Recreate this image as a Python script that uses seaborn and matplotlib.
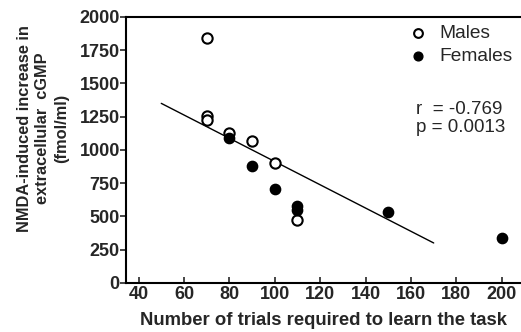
import numpy as np
import pandas as pd
import seaborn as sns
import matplotlib.pyplot as plt

sns.set_theme(style="white")
plt.rcParams['font.family'] = ['Liberation Sans', 'DejaVu Sans']

# Data
male_trials = [70, 70, 70, 80, 90, 100, 110]
male_cgmp = [1845, 1255, 1225, 1130, 1065, 900, 475]
female_trials = [80, 90, 100, 110, 110, 150, 200]
female_cgmp = [1090, 880, 705, 575, 545, 530, 335]
fit_x = [50, 170]
fit_y = [1350, 300]
x_ticks = [40, 60, 80, 100, 120, 140, 160, 180, 200]
y_ticks = [0, 250, 500, 750, 1000, 1250, 1500, 1750, 2000]

males = pd.DataFrame({"trials": male_trials, "cgmp": male_cgmp})
females = pd.DataFrame({"trials": female_trials, "cgmp": female_cgmp})

fig = plt.figure(figsize=(5.21, 3.32), dpi=100)
ax = fig.add_axes([0.242, 0.148, 0.756, 0.801])

sns.lineplot(x=fit_x, y=fit_y, ax=ax, color="black", linewidth=1.0)
sns.scatterplot(data=males, x="trials", y="cgmp", ax=ax, s=55,
                facecolor="white", edgecolor="black", linewidth=1.5,
                label="Males", zorder=3)
sns.scatterplot(data=females, x="trials", y="cgmp", ax=ax, s=55,
                color="black", edgecolor="black", linewidth=1.0,
                label="Females", zorder=3)

ax.set_xlim(34.5, 208)
ax.set_ylim(0, 2000)
ax.set_xticks(x_ticks)
ax.set_yticks(y_ticks)
for lab in ax.get_xticklabels() + ax.get_yticklabels():
    lab.set_fontweight("bold")
    lab.set_fontsize(13)
ax.tick_params(axis="x", direction="in", length=4, width=1.2, pad=2, bottom=True)
ax.tick_params(axis="y", direction="out", length=4, width=1.2, pad=0.5, left=True)

for side in ["left", "bottom", "top"]:
    ax.spines[side].set_linewidth(1.5)
    ax.spines[side].set_color("black")
ax.spines["right"].set_visible(False)

ax.set_xlabel("Number of trials required to learn the task", fontsize=13.3,
              fontweight="bold", labelpad=7)
ax.set_ylabel("NMDA-induced increase in\nextracellular  cGMP\n(fmol/ml)",
              fontsize=11.8, fontweight="bold", linespacing=1.3)
ax.yaxis.set_label_coords(-0.145, 0.58)

ax.legend(loc="upper right", frameon=False, fontsize=13.8, handletextpad=0.1,
          borderaxespad=0.0, labelspacing=0.3, markerscale=0.85,
          bbox_to_anchor=(1.0, 1.0))

ax.text(0.735, 0.685, "r  = -0.769\np = 0.0013", transform=ax.transAxes,
        fontsize=13.5, va="top", ha="left", linespacing=1.1)

fig.savefig("out.png", dpi=100)
